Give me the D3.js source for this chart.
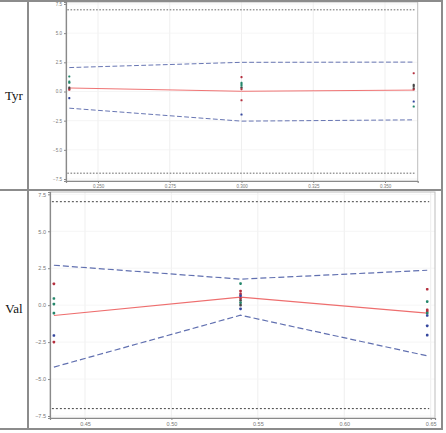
<!DOCTYPE html>
<html>
<head>
<meta charset="utf-8">
<script src="https://cdn.jsdelivr.net/npm/d3@7"></script>
<style>
  body { margin: 0; background: #fff; }
  svg { display: block; }
</style>
</head>
<body>
<svg id="chart"></svg>
<script>
// panel data
const tyrX = [0.24, 0.30, 0.36];
const tyrMean = [0.30, 0.02, 0.12];
const tyrUpper = [2.05, 2.50, 2.52];
const tyrLower = [-1.43, -2.54, -2.43];
const tyrPoints = [
  [0.24, 1.29, "teal"], [0.24, 0.86, "teal"], [0.24, 0.75, "teal"], [0.24, 0.34, "dark"],
  [0.24, 0.26, "dark"], [0.24, 0.15, "red"], [0.24, -0.57, "blue"],
  [0.30, 1.23, "red"], [0.30, 0.74, "teal"], [0.30, 0.62, "teal"], [0.30, 0.49, "teal"],
  [0.30, 0.32, "dark"], [0.30, 0.20, "red"], [0.30, -0.75, "red"], [0.30, -1.97, "blue"],
  [0.36, 1.57, "red"], [0.36, 0.57, "dark"], [0.36, 0.46, "dark"], [0.36, 0.28, "dark"],
  [0.36, 0.17, "red"], [0.36, -0.86, "blue"], [0.36, -1.29, "teal"]
];
const tyrXTicks = [0.250, 0.275, 0.300, 0.325, 0.350];

const valX = [0.432, 0.540, 0.648];
const valMean = [-0.70, 0.54, -0.54];
const valUpper = [2.70, 1.76, 2.36];
const valLower = [-4.19, -0.68, -3.43];
const valPoints = [
  [0.432, 1.44, "red"], [0.432, 0.45, "teal"], [0.432, 0.07, "teal"], [0.432, -0.54, "teal"],
  [0.432, -2.05, "blue"], [0.432, -2.50, "red"],
  [0.540, 1.46, "teal"], [0.540, 0.95, "red"], [0.540, 0.76, "red"], [0.540, 0.63, "blue"],
  [0.540, 0.45, "red"], [0.540, 0.31, "dark"], [0.540, 0.16, "teal"], [0.540, 0.0, "dark"],
  [0.540, -0.25, "blue"],
  [0.648, 1.08, "red"], [0.648, 0.24, "teal"], [0.648, -0.32, "red"], [0.648, -0.43, "red"],
  [0.648, -0.54, "teal"], [0.648, -0.70, "blue"], [0.648, -1.40, "blue"], [0.648, -2.03, "blue"]
];
const valXTicks = [0.45, 0.50, 0.55, 0.60, 0.65];

const yTicks = [-7.5, -5.0, -2.5, 0.0, 2.5, 5.0, 7.5];
const limit = 7;

const pointColor = { red: "#b5303f", teal: "#24876b", blue: "#35479e", dark: "#474747" };

const width = 446, height = 433;
const svg = d3.select("#chart").attr("width", width).attr("height", height);

function panel(cfg) {
  const k = cfg.k; // the top picture is drawn a bit smaller
  const x = d3.scaleLinear().domain(cfg.xDomain).range([cfg.left, cfg.right]);
  const y = d3.scaleLinear().domain(cfg.yDomain).range([cfg.bottom, cfg.top]);
  const g = svg.append("g");

  // grid
  g.selectAll(".vg").data(cfg.xTicks).join("line")
    .attr("x1", d => x(d)).attr("x2", d => x(d))
    .attr("y1", cfg.top).attr("y2", cfg.bottom)
    .attr("stroke", "#ebebeb").attr("stroke-width", 0.8);
  g.selectAll(".hg").data(yTicks).join("line")
    .attr("y1", d => y(d)).attr("y2", d => y(d))
    .attr("x1", cfg.left).attr("x2", cfg.right)
    .attr("stroke", "#f2f2f2").attr("stroke-width", 0.8);

  // frame
  g.append("rect")
    .attr("x", cfg.left).attr("y", cfg.top)
    .attr("width", cfg.right - cfg.left).attr("height", cfg.bottom - cfg.top)
    .attr("fill", "none").attr("stroke", "#bdbdbd").attr("stroke-width", 1);

  // axes
  const yAxis = d3.axisLeft(y).tickValues(yTicks).tickFormat(d3.format(".1f")).tickSize(2).tickPadding(2);
  const ya = g.append("g").attr("transform", `translate(${cfg.left},0)`).call(yAxis);
  const xAxis = d3.axisBottom(x).tickValues(cfg.xTicks).tickFormat(d3.format(cfg.xFmt)).tickSize(2).tickPadding(2);
  const xa = g.append("g").attr("transform", `translate(0,${cfg.bottom})`).call(xAxis);
  [ya, xa].forEach(a => {
    a.select(".domain").attr("stroke", "#8a8a8a").attr("stroke-width", 1.2);
    a.selectAll(".tick line").attr("stroke", "#8a8a8a");
    a.selectAll("text").attr("fill", "#777").attr("font-size", cfg.fs)
      .attr("font-family", "Liberation Sans, sans-serif");
  });

  // limit lines
  [limit, -limit].forEach(v => {
    g.append("line")
      .attr("x1", x(cfg.xs[0]) - 2).attr("x2", x(cfg.xs[2]) + 2)
      .attr("y1", y(v)).attr("y2", y(v))
      .attr("stroke", "#444").attr("stroke-width", 1 * k)
      .attr("stroke-dasharray", `${2 * k},${2 * k}`);
  });

  const line = d3.line().x(d => x(d[0])).y(d => y(d[1]));
  const band = (vals) => cfg.xs.map((v, i) => [v, vals[i]]);

  [cfg.upper, cfg.lower].forEach(vals => {
    g.append("path").datum(band(vals)).attr("d", line)
      .attr("fill", "none").attr("stroke", "#6170b0").attr("stroke-width", 1.2 * k)
      .attr("stroke-dasharray", `${6 * k},${3 * k}`);
  });
  g.append("path").datum(band(cfg.mean)).attr("d", line)
    .attr("fill", "none").attr("stroke", "#ee6e6e").attr("stroke-width", 1.2 * k);

  g.selectAll(".pt").data(cfg.points).join("rect")
    .attr("x", d => x(d[0]) - 1.3 * k).attr("y", d => y(d[1]) - 1.3 * k)
    .attr("width", 2.6 * k).attr("height", 2.6 * k).attr("rx", 0.8 * k)
    .attr("fill", d => pointColor[d[2]]);
}

panel({
  xs: tyrX, mean: tyrMean, upper: tyrUpper, lower: tyrLower, points: tyrPoints,
  xTicks: tyrXTicks, xFmt: ".3f", k: 0.8,
  xDomain: [0.23885, 0.36139], yDomain: [-7.67, 7.67],
  left: 66, right: 417.7, top: 2, bottom: 181, fs: 4.5
});

panel({
  xs: valX, mean: valMean, upper: valUpper, lower: valLower, points: valPoints,
  xTicks: valXTicks, xFmt: ".2f", k: 1,
  xDomain: [0.42975, 0.6525], yDomain: [-7.635, 7.656],
  left: 50, right: 435, top: 192, bottom: 418, fs: 5.5
});

// table borders
const border = svg.append("g").attr("stroke", "#8c8c8c").attr("stroke-width", 2);
border.append("line").attr("x1", 0).attr("x2", 443).attr("y1", 1).attr("y2", 1);
border.append("line").attr("x1", 0).attr("x2", 443).attr("y1", 190).attr("y2", 190);
border.append("line").attr("x1", 0).attr("x2", 443).attr("y1", 429).attr("y2", 429);
border.append("line").attr("x1", 28).attr("x2", 28).attr("y1", 0).attr("y2", 430);
border.append("line").attr("x1", 442).attr("x2", 442).attr("y1", 0).attr("y2", 430);

// row labels
svg.selectAll(".rowlab").data([["Tyr", 96], ["Val", 309]]).join("text")
  .attr("x", 14).attr("y", d => d[1] + 4)
  .attr("text-anchor", "middle")
  .attr("font-family", "Liberation Serif, serif").attr("font-size", 13)
  .attr("fill", "#111")
  .text(d => d[0]);
</script>
</body>
</html>
